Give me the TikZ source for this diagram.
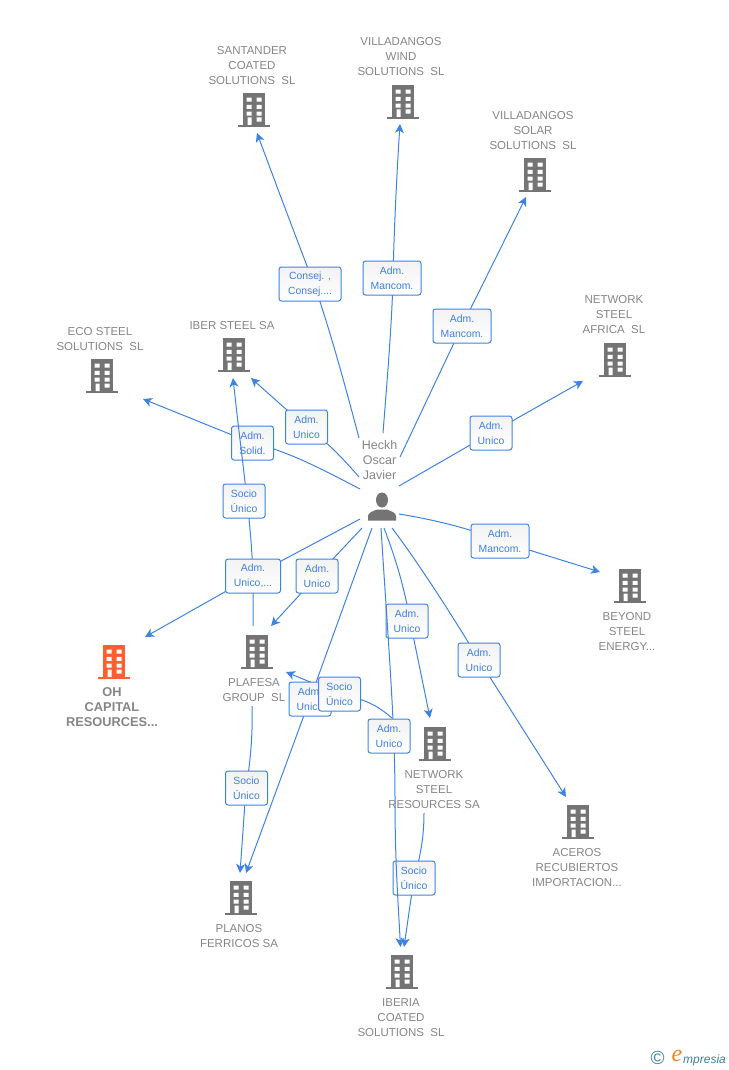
\documentclass[tikz,border=0pt]{standalone}
\usepackage{fontspec}
\setmainfont{Liberation Sans}
\newfontfamily\logoserif{Liberation Serif}
\usetikzlibrary{arrows.meta}
\definecolor{linkblue}{HTML}{3F83E0}
\definecolor{boxtext}{HTML}{3F7FDC}
\definecolor{namegray}{HTML}{858585}
\definecolor{icongray}{HTML}{747474}
\definecolor{iconorange}{HTML}{FF5E2E}
\definecolor{logoteal}{HTML}{3F7F9C}
\definecolor{logoorange}{HTML}{F58220}
\tikzset{
  pics/bldg/.style={code={
    \fill[#1] (-11,-17) rectangle (11,15);
    \fill[#1] (-16,15) rectangle (16,17);
    \fill[white] (-7.3,-12.3) rectangle (-2.3,-8.3) (2.7,-12.3) rectangle (7.7,-8.3)
      (-7.3,-5.2) rectangle (-2.3,-1.2) (2.7,-5.2) rectangle (7.7,-1.2)
      (-7.3,1.7) rectangle (-2.3,5.7) (2.7,1.7) rectangle (7.7,5.7)
      (-6.3,7.5) rectangle (-2.3,15) (2.7,7.5) rectangle (7.7,11.7);
  }},
  linkline/.style={draw=linkblue,line width=1pt},
  arrowlink/.style={linkline,-{Stealth[length=9pt,width=9pt,inset=2.5pt]}},
  tagbox/.style={draw=linkblue,line width=1pt,rounded corners=2.5pt,top color=black!5,bottom color=white,
    text=boxtext,font=\fontsize{10.4}{15}\selectfont,align=center,minimum height=34pt,minimum width=42pt,inner sep=0pt,
    execute at begin node={\vspace*{2pt}}},
  widebox/.style={tagbox,minimum width=58pt},
  entity/.style={text=namegray,font=\fontsize{11.5}{15}\selectfont,align=center,inner sep=0pt,yshift=-1pt},
  boldentity/.style={text=namegray,font=\fontsize{12.8}{15}\selectfont\bfseries,align=center,inner sep=0pt,yshift=-1pt},
}
\begin{document}
\begin{tikzpicture}[x=1pt,y=-1pt]
\useasboundingbox (0,0) rectangle (728,1070);
% connector ends
\coordinate (hA) at (359,438); \coordinate (tA) at (257,133);
\coordinate (hB) at (383,433); \coordinate (tB) at (400,124);
\coordinate (hC) at (400,457); \coordinate (tC) at (526,197);
\coordinate (hD) at (399,486); \coordinate (tD) at (583,381);
\coordinate (hE) at (399,514); \coordinate (tE) at (600,572);
\coordinate (hF) at (392,528); \coordinate (tF) at (566,797);
\coordinate (hG) at (384,528); \coordinate (tG) at (430,718);
\coordinate (hH) at (381,528); \coordinate (tH) at (400.5,947);
\coordinate (hI) at (372,528); \coordinate (tI) at (246,873);
\coordinate (hJ) at (362,528); \coordinate (tJ) at (271,626);
\coordinate (hK) at (360,519); \coordinate (tK) at (145,637);
\coordinate (hL) at (360,489); \coordinate (tL) at (143,399);
\coordinate (hM) at (359,477); \coordinate (tM) at (251,378);
\coordinate (pS) at (253,626); \coordinate (tS) at (233,378);
\coordinate (pP) at (252,706); \coordinate (tP) at (240,873);
\coordinate (nA) at (392,718); \coordinate (tN) at (286,672);
\coordinate (nB) at (424,813); \coordinate (tO) at (404,947);
% connectors under the tags
\draw[arrowlink] (hA) .. controls (345,385) and (330,330) .. (314,284) .. controls (300,248) and (280,195) .. (tA);
\draw[arrowlink] (hB) .. controls (388,370) and (392,320) .. (393,278) .. controls (394,230) and (397,170) .. (tB);
\draw[arrowlink] (hC) -- (462,326) -- (tC);
\draw[arrowlink] (hD) -- (491,433) -- (tD);
\draw[arrowlink] (hE) .. controls (430,519) and (470,528) .. (500,541) -- (tE);
\draw[arrowlink] (hF) .. controls (420,565) and (455,620) .. (479,660) -- (tF);
\draw[arrowlink] (hG) .. controls (398,565) and (405,590) .. (414,640) -- (tG);
\draw[arrowlink] (hI) -- (310,699) -- (tI);
\draw[arrowlink] (hJ) -- (317,576) -- (tJ);
\draw[arrowlink] (hK) -- (253,576) -- (tK);
\draw[arrowlink] (hL) .. controls (320,468) and (285,450) .. (252,443) -- (tL);
\draw[arrowlink] (hM) .. controls (340,455) and (325,440) .. (306,427) -- (tM);
\draw[arrowlink] (pP) .. controls (253,735) and (250,765) .. (246,788) -- (tP);
\draw[arrowlink] (nA) .. controls (380,708) and (370,700) .. (339,694) -- (tN);
\draw[arrowlink] (nB) .. controls (424,835) and (421,855) .. (414,878) -- (tO);
% tags
\node[tagbox,minimum width=62pt] (t1) at (310,284) {Consej. ,\\Consej....};
\node[widebox] (t2) at (392,278) {Adm.\\Mancom.};
\node[widebox] (t3) at (462,326) {Adm.\\Mancom.};
\node[tagbox] (t4) at (491,433) {Adm.\\Unico};
\node[widebox] (t5) at (500,541) {Adm.\\Mancom.};
\node[tagbox] (t6) at (479,660) {Adm.\\Unico};
\node[tagbox] (t7) at (407,621) {Adm.\\Unico};
\node[tagbox] (t9) at (414,878) {Socio\\Único};
\node[tagbox] (t10) at (310,699) {Adm.\\Unico};
\node[tagbox] (t11) at (339.5,694) {Socio\\Único};
\node[tagbox] (t12) at (317,576) {Adm.\\Unico};
\node[tagbox] (t15) at (252.5,443) {Adm.\\Solid.};
\node[tagbox] (t16) at (306.5,427) {Adm.\\Unico};
\node[tagbox] (t17) at (246.5,788) {Socio\\Único};
% connectors over some tags
\draw[arrowlink] (pS) -- (253,576) .. controls (251,520) and (243,470) .. (tS);
\node[tagbox] (t14) at (244,501) {Socio\\Único};
\node[tagbox,minimum width=55pt] (t13) at (253,576) {Adm.\\Unico,...};
\draw[arrowlink] (hH) .. controls (388,640) and (395,720) .. (395,800) .. controls (395,860) and (398,900) .. (tH);
\node[tagbox] (t8) at (389,736) {Adm.\\Unico};
% building icons
\pic at (254,110) {bldg=icongray};
\pic at (403,102) {bldg=icongray};
\pic at (535,175) {bldg=icongray};
\pic at (615,360) {bldg=icongray};
\pic at (102,376) {bldg=icongray};
\pic at (234,355) {bldg=icongray};
\pic at (630,586) {bldg=icongray};
\pic at (114,662) {bldg=iconorange};
\pic at (257,652) {bldg=icongray};
\pic at (435,744) {bldg=icongray};
\pic at (578,822) {bldg=icongray};
\pic at (241,898) {bldg=icongray};
\pic at (402,972) {bldg=icongray};
% names
\node[entity] (n1) at (252,65) {SANTANDER\\COATED\\SOLUTIONS\ \ SL};
\node[entity] (n2) at (401,56) {VILLADANGOS\\WIND\\SOLUTIONS\ \ SL};
\node[entity] (n3) at (533,130) {VILLADANGOS\\SOLAR\\SOLUTIONS\ \ SL};
\node[entity] (n4) at (614,314) {NETWORK\\STEEL\\AFRICA\ \ SL};
\node[entity] (n5) at (100,338.5) {ECO STEEL\\SOLUTIONS\ \ SL};
\node[entity] (n6) at (232,325) {IBER STEEL SA};
\node[entity] (n7) at (627,631) {BEYOND\\STEEL\\ENERGY...};
\node[boldentity] (n8) at (112,706) {OH\\CAPITAL\\RESOURCES...};
\node[entity] (n9) at (254,689.5) {PLAFESA\\GROUP\ \ SL};
\node[entity] (n10) at (434,789) {NETWORK\\STEEL\\RESOURCES SA};
\node[entity] (n11) at (577,867) {ACEROS\\RECUBIERTOS\\IMPORTACION...};
\node[entity] (n12) at (239,935.5) {PLANOS\\FERRICOS SA};
\node[entity] (n13) at (401,1017) {IBERIA\\COATED\\SOLUTIONS\ \ SL};
% person
\node[entity,font=\fontsize{12.5}{15}\selectfont] (hub) at (379.5,459) {Heckh\\Oscar\\Javier};
\fill[icongray] (382,500) ellipse (6pt and 7.5pt);
\fill[icongray] (368,520.5) -- (368,516) .. controls (368,513) and (372,511.5) .. (377,509.5) -- (387,509.5)
  .. controls (392,511.5) and (396,513) .. (396,516) -- (396,520.5) -- cycle;
% logo
\node[text=logoteal,font=\fontsize{19}{19}\selectfont,inner sep=0pt] (copyr) at (657.5,1058) {©};
\node[text=logoorange,font=\fontsize{24}{24}\logoserif\itshape,inner sep=0pt] (logoe) at (677,1056) {e};
\node[text=logoteal,font=\fontsize{12}{12}\selectfont\itshape,inner sep=0pt,anchor=base west] (logot) at (683,1063) {mpresia};
\end{tikzpicture}
\end{document}
